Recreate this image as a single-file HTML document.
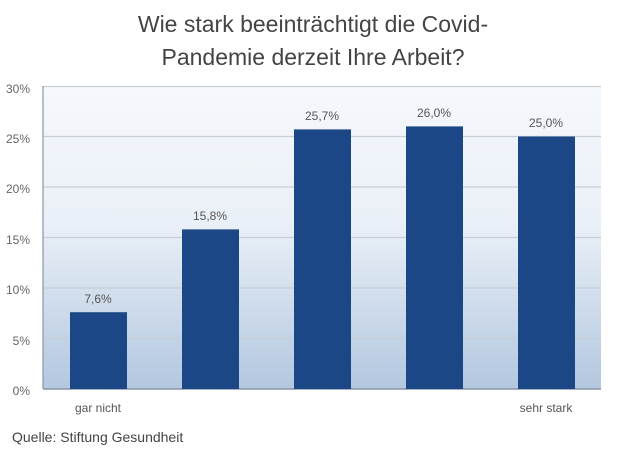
<!DOCTYPE html>
<html><head><meta charset="utf-8"><style>
body{margin:0;background:#fff;}
</style></head><body>
<svg width="626" height="450" xmlns="http://www.w3.org/2000/svg" font-family="'Liberation Sans', sans-serif">
<defs><linearGradient id="g" x1="0" y1="0" x2="0" y2="1">
<stop offset="0" stop-color="#f5f8fc"/><stop offset="0.45" stop-color="#eaf0f7"/><stop offset="1" stop-color="#b3c7e0"/></linearGradient></defs>
<text x="313" y="32" text-anchor="middle" font-size="23" fill="#444">Wie stark beeinträchtigt die Covid-</text>
<text x="313" y="65" text-anchor="middle" font-size="23" fill="#444">Pandemie derzeit Ihre Arbeit?</text>
<rect x="43" y="86" width="558" height="303" fill="url(#g)"/>
<g stroke="#c8ced6" stroke-width="1.2">
<line x1="43" x2="601" y1="86.5" y2="86.5"/><line x1="43" x2="601" y1="136.5" y2="136.5"/>
<line x1="43" x2="601" y1="187" y2="187"/><line x1="43" x2="601" y1="237.5" y2="237.5"/>
<line x1="43" x2="601" y1="288" y2="288"/><line x1="43" x2="601" y1="338.5" y2="338.5"/>
</g>
<line x1="43" x2="43" y1="86" y2="389" stroke="#8a96a6" stroke-width="1.2"/>
<line x1="43" x2="601" y1="389" y2="389" stroke="#8a96a6" stroke-width="1.5"/>
<g font-size="12" fill="#666" text-anchor="end">
<text x="30" y="93">30%</text><text x="30" y="143">25%</text><text x="30" y="193">20%</text>
<text x="30" y="244">15%</text><text x="30" y="294">10%</text><text x="30" y="345">5%</text><text x="30" y="395">0%</text>
</g>
<g fill="#1b4786">
<rect x="70" y="312.2" width="57" height="76.8"/>
<rect x="182" y="229.4" width="57" height="159.6"/>
<rect x="294" y="129.4" width="57" height="259.6"/>
<rect x="406" y="126.4" width="57" height="262.6"/>
<rect x="518" y="136.5" width="57" height="252.5"/>
</g>
<g font-size="12" fill="#555" text-anchor="middle">
<text x="98" y="303">7,6%</text><text x="210" y="220">15,8%</text><text x="322" y="120">25,7%</text>
<text x="434" y="117">26,0%</text><text x="546" y="127">25,0%</text>
<text x="98" y="412">gar nicht</text><text x="546" y="412">sehr stark</text>
</g>
<text x="12" y="442" font-size="14" fill="#444">Quelle: Stiftung Gesundheit</text>
</svg>
</body></html>
